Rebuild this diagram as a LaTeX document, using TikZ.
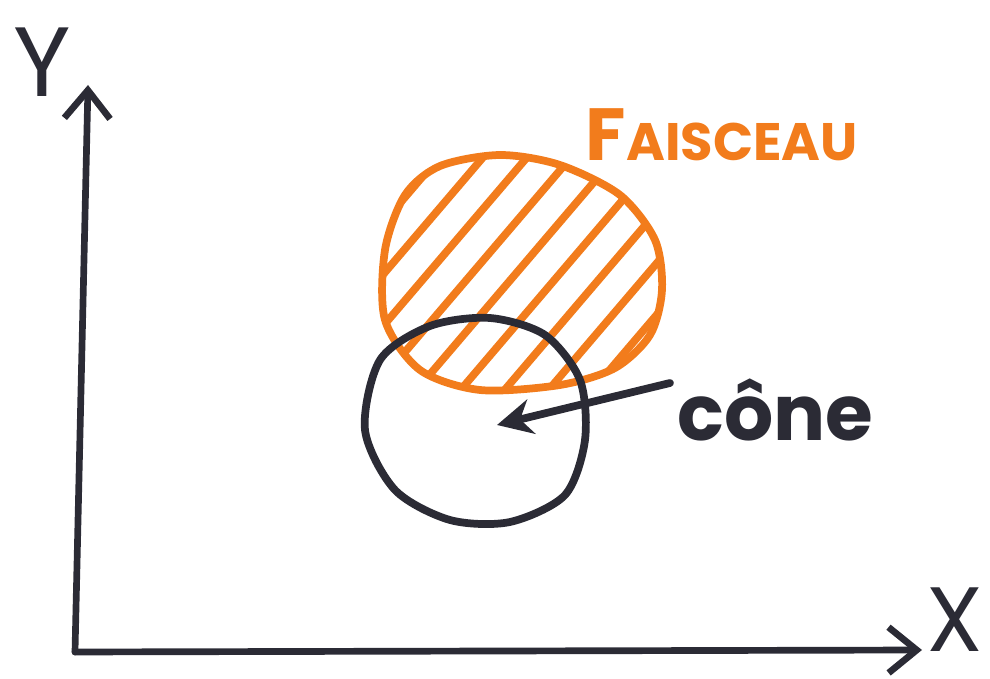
\documentclass[tikz,border=0pt]{standalone}
\usepackage{fontspec}
\setmainfont{Poppins}
\usepackage{xcolor}
\usetikzlibrary{arrows.meta}
\definecolor{faisceau}{HTML}{F27C1C}
\definecolor{encre}{HTML}{2B2B35}
\tikzset{
  axe/.style={draw=encre, line width=1.9pt, line cap=round, -{Straight Barb[length=8pt, width=13pt, line width=1.9pt]}},
  trait/.style={line width=2.2pt, line cap=round, line join=round},
}

\begin{document}
\begin{tikzpicture}[x=0.01cm, y=-0.01cm]
    \useasboundingbox (0,0) rectangle (990,679);

    % axes
    \coordinate (o) at (75,652);
    \coordinate (ytop) at (88,85);
    \coordinate (xend) at (922,650);
    \draw[axe] (o) -- (ytop);
    \draw[axe] (o) -- (xend);
    \node[text=encre, font=\fontsize{28}{30}\selectfont] (ylab) at (42,62) {Y};
    \node[text=encre, font=\fontsize{26}{28}\selectfont] (xlab) at (955,620) {X};

    % faisceau
    \begin{scope}
        \clip plot[smooth cycle] coordinates {(385,250) (405,195) (440,166) (500,155) (560,165) (620,195) (655,240) (662,290) (650,335) (615,368) (560,385) (480,390) (420,370) (385,320)};
        \foreach \i in {0,...,10}
            \draw[faisceau, trait] (215+\i*44,420) -- ++(290,-340);
    \end{scope}
    \draw[faisceau, trait] plot[smooth cycle] coordinates {(385,250) (405,195) (440,166) (500,155) (560,165) (620,195) (655,240) (662,290) (650,335) (615,368) (560,385) (480,390) (420,370) (385,320)};
    \node[text=faisceau, font=\fontseries{sb}\fontsize{15}{18}\selectfont] (flab) at (722,135)
        {{\fontsize{21}{24}\selectfont F}AISCEAU};

    % cone
    \draw[encre, trait] plot[smooth cycle] coordinates {(365,430) (380,360) (430,326) (490,318) (545,335) (580,380) (585,440) (565,495) (510,522) (450,520) (395,490)};
    \coordinate (centre) at (497,425);
    \node[text=encre, font=\fontseries{sb}\fontsize{22}{26}\selectfont, anchor=west] (clab) at (665,410) {cône};
    \draw[encre, trait, -{Stealth[length=10pt, width=10pt]}] (670,383) -- (centre);
\end{tikzpicture}
\end{document}
